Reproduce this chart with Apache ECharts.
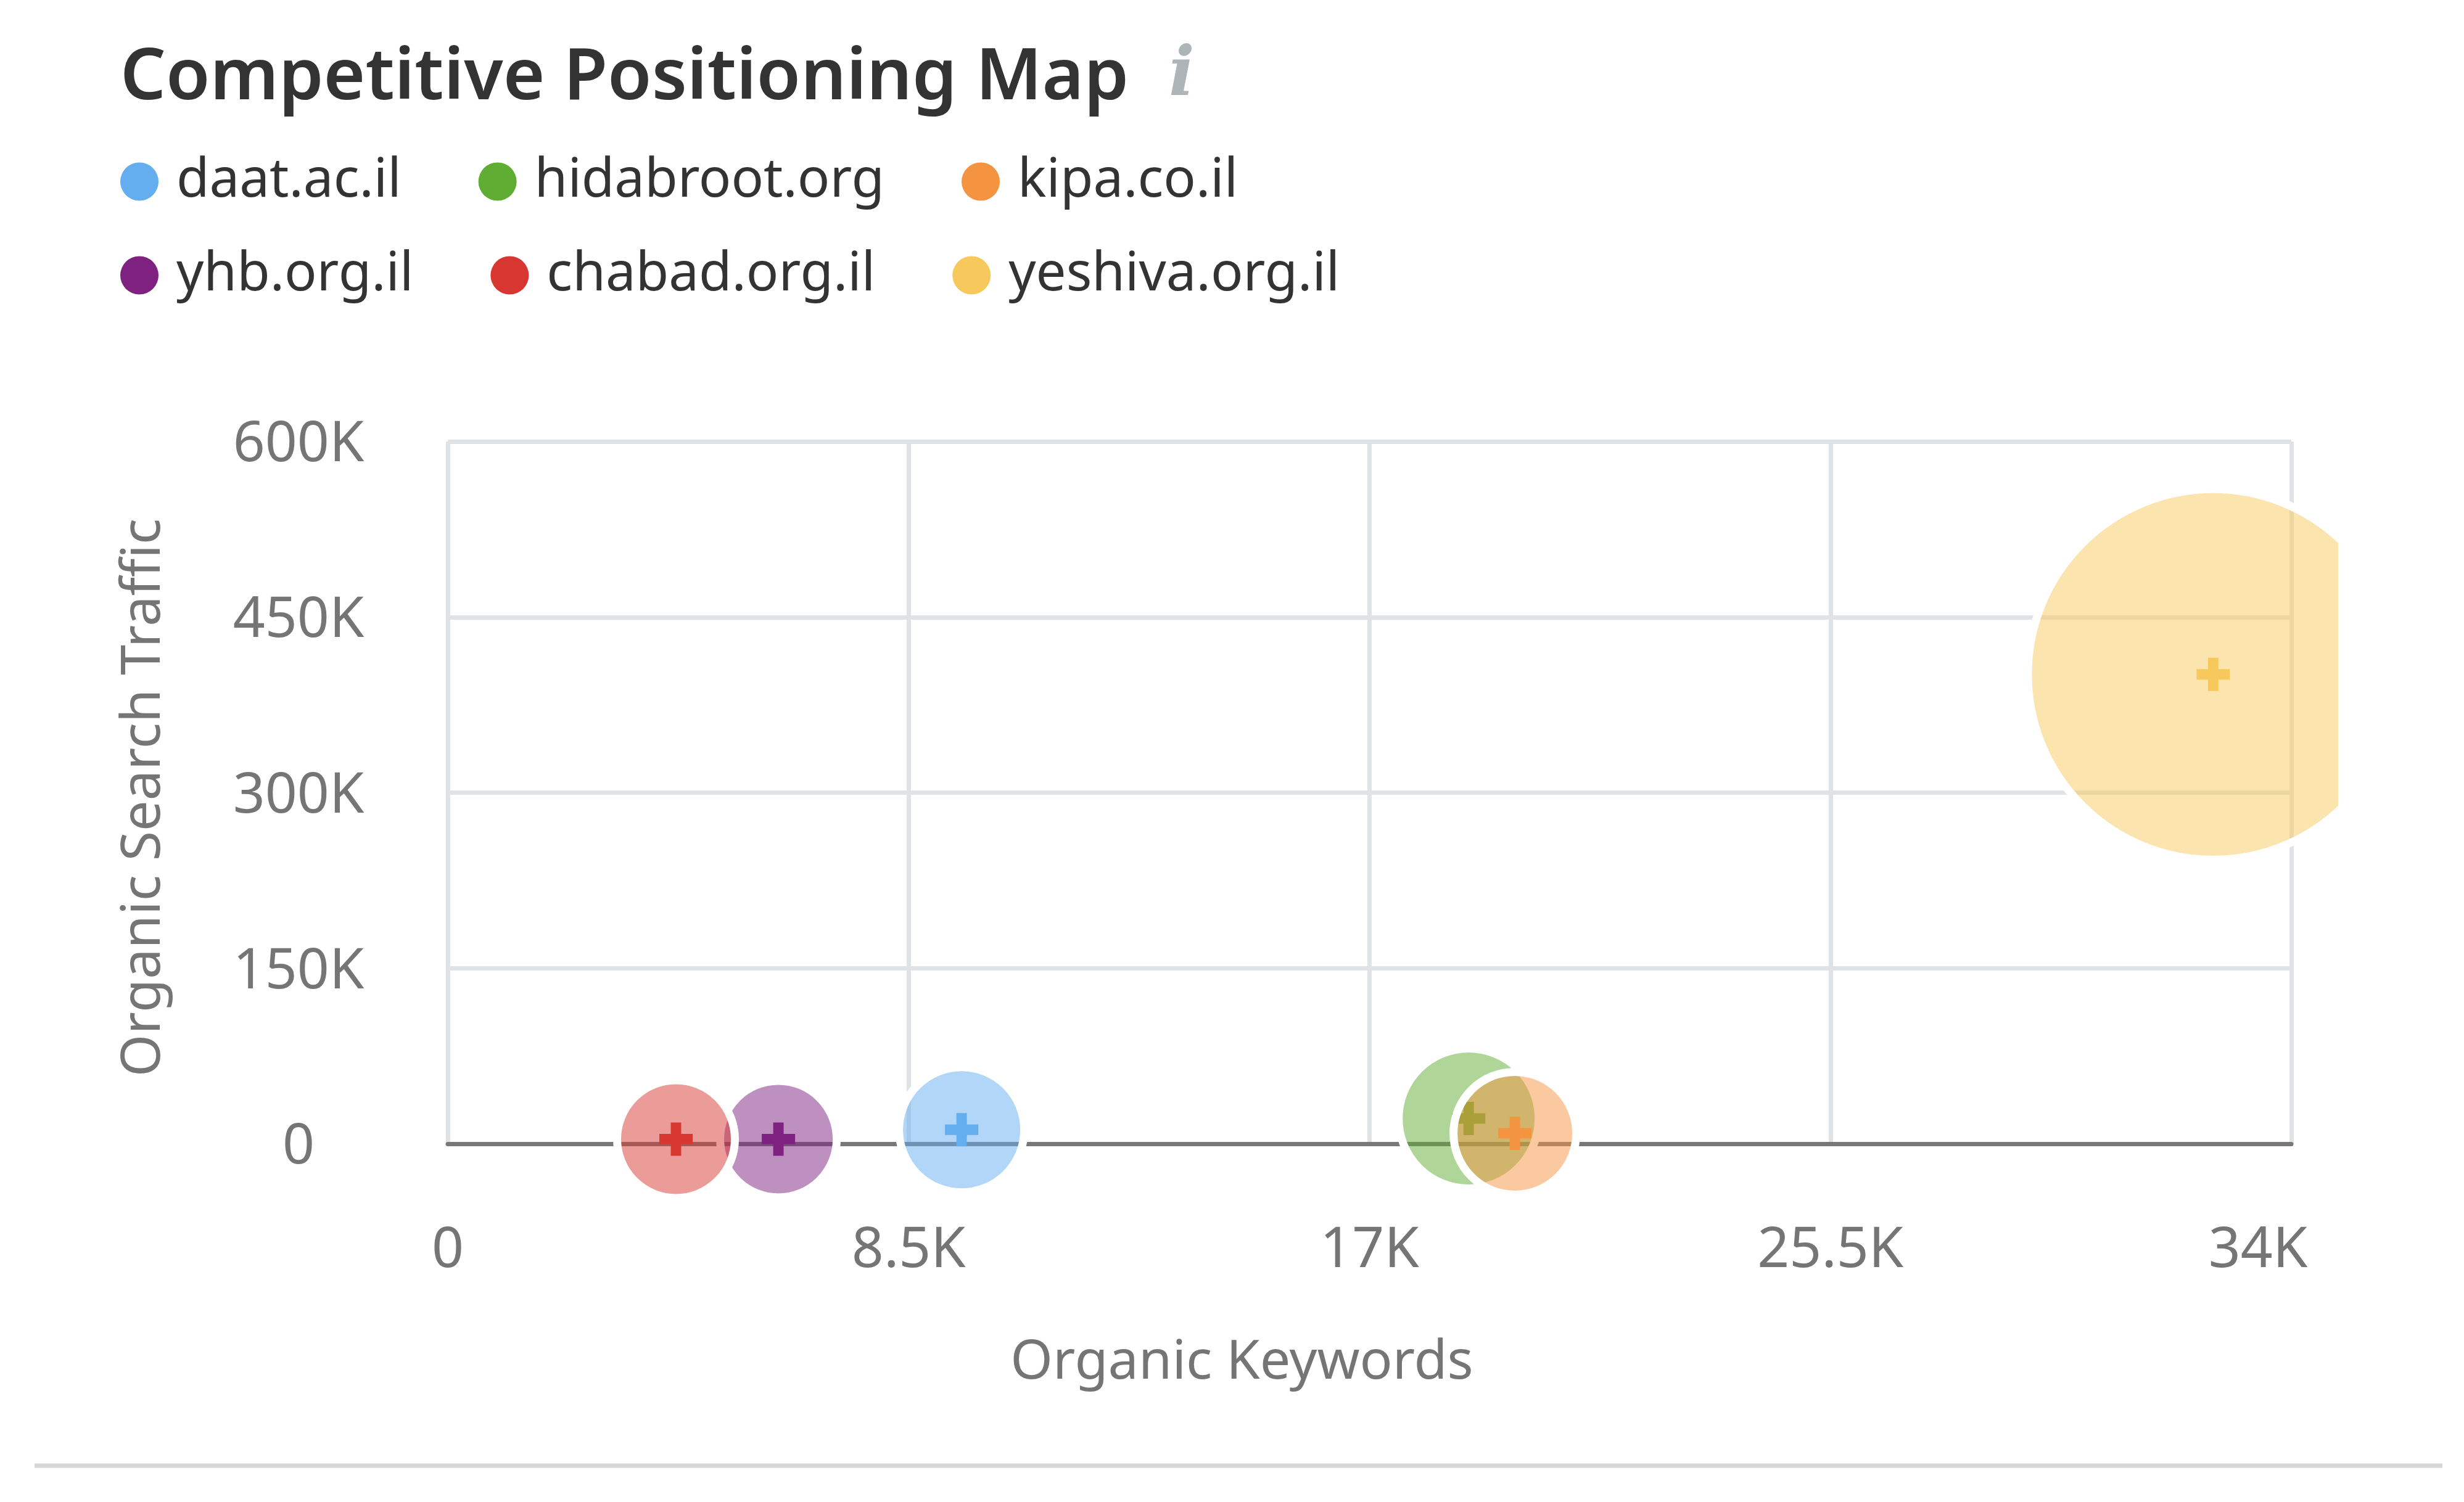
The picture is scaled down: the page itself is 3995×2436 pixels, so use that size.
<!DOCTYPE html>
<html><head><meta charset="utf-8">
<style>html,body{margin:0;padding:0;background:#fff}#c{width:3995px;height:2436px}</style>
<script src="https://cdn.jsdelivr.net/npm/echarts@6/dist/echarts.min.js"></script>
</head><body><div id="c"></div>
<script>
const titleText = "Competitive Positioning Map";
const domains = ["daat.ac.il","hidabroot.org","kipa.co.il","yhb.org.il","chabad.org.il","yeshiva.org.il"];
const colors  = ["#64ADEF","#5FAD32","#F59440","#7E2181","#D83731","#F7C95C"];
const fills   = ["rgba(100,173,239,.5)","rgba(95,173,50,.5)","rgba(245,148,64,.5)","rgba(126,33,129,.5)","rgba(216,55,49,.5)","rgba(247,201,92,.5)"];
const keywords = [9477,18828,19680,6098,4209,32560];
const traffic  = [12000,21600,9000,4000,4000,401000];
const bubble   = [95,107,93,88,89,294];
const xTicks = ["0","8.5K","17K","25.5K","34K"];
const yTicks = ["0","150K","300K","450K","600K"];
const FONT = "Noto Sans";
const RING = 13;
const plus = "path://M5.5,0H10.5V5.5H16V10.5H10.5V16H5.5V10.5H0V5.5H5.5Z";

const series = [];
domains.forEach((d,i)=>{
  const pt = [[keywords[i],traffic[i],bubble[i]]];
  series.push({name:d,type:"scatter",clip:false,data:pt,
    symbol:"circle",symbolSize:v=>2*v[2]+RING,
    itemStyle:{color:fills[i],borderColor:"#fff",borderWidth:RING,opacity:1},
    emphasis:{disabled:true},silent:true});
  series.push({name:d,type:"scatter",clip:false,data:pt,
    symbol:plus,symbolSize:54,itemStyle:{color:colors[i],opacity:1},
    emphasis:{disabled:true},silent:true});
});
const legendData = (from,to)=>domains.slice(from,to).map((d,k)=>({name:d,icon:"circle",
  itemStyle:{color:colors[from+k],borderWidth:0}}));
const legendBase = {left:190,orient:"horizontal",itemWidth:62,itemHeight:62,itemGap:125,
  textStyle:{fontFamily:FONT,fontSize:87,color:"#333",padding:[0,0,0,24]},selectedMode:false};

const option = {
  backgroundColor:"#fff",animation:false,
  title:[
    {text:titleText,left:190,top:65,textStyle:{fontFamily:FONT,fontSize:116,fontWeight:600,color:"#333"}},
    {text:"i",left:1890,top:65,textStyle:{fontFamily:"DejaVu Serif",fontStyle:"italic",fontWeight:"bold",fontSize:110,color:"#AEB5B8"}}
  ],
  legend:[
    Object.assign({},legendBase,{top:246,data:legendData(0,3)}),
    Object.assign({},legendBase,{top:398,data:legendData(3,6)})
  ],
  grid:{left:726,top:716,width:2989,height:1139},
  xAxis:{type:"value",min:0,max:34000,interval:8500,
     name:"Organic Keywords",nameLocation:"middle",nameGap:312,
     nameTextStyle:{fontFamily:FONT,fontSize:88,color:"#757575",padding:[0,414,0,0]},
     axisLine:{show:true,onZero:false,lineStyle:{color:"#787878",width:7}},axisTick:{show:false},
     splitLine:{show:true,lineStyle:{color:"#E0E3E6",width:7}},
     axisLabel:{margin:129,fontFamily:FONT,fontSize:91,color:"#757575",
       formatter:(v,i)=> i===xTicks.length-1 ? "{last|"+xTicks[i]+"}" : xTicks[i],
       rich:{last:{fontFamily:FONT,fontSize:91,color:"#757575",padding:[0,108,0,0]}}}},
  yAxis:{type:"value",min:0,max:600000,interval:150000,
     name:"Organic Search Traffic",nameLocation:"middle",nameGap:448,nameRotate:90,
     nameTextStyle:{fontFamily:FONT,fontSize:88,color:"#757575",padding:[0,16,0,0]},
     axisLine:{show:false},axisTick:{show:false},
     splitLine:{show:true,lineStyle:{color:"#E0E3E6",width:7}},
     axisLabel:{margin:242,align:"center",fontFamily:FONT,fontSize:91,color:"#757575",
       formatter:(v,i)=>"{v|"+yTicks[i]+"}",
       rich:{v:{fontFamily:FONT,fontSize:91,color:"#757575",padding:[13,0,0,0]}}}},
  graphic:[
    {type:"rect",z:100,shape:{x:3791,y:700,width:204,height:800},style:{fill:"#fff"},silent:true},
    {type:"line",z:100,shape:{x1:56,y1:2377,x2:3960,y2:2377},style:{stroke:"#D5D6D8",lineWidth:7},silent:true}
  ],
  series
};
echarts.init(document.getElementById("c"),null,{renderer:"canvas"}).setOption(option);
</script></body></html>
